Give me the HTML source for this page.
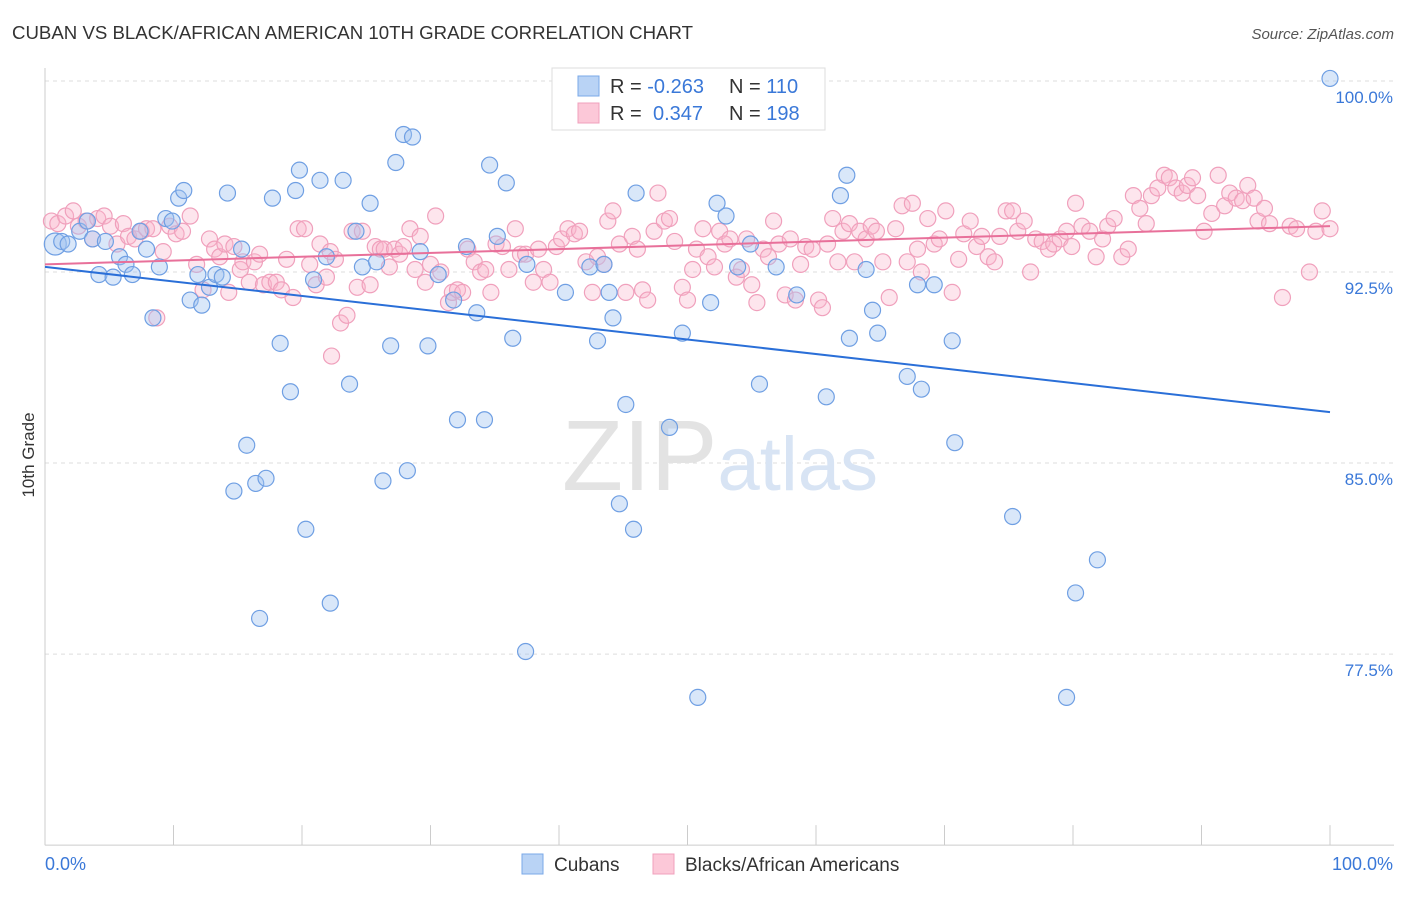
<!DOCTYPE html>
<html><head><meta charset="utf-8"><style>
body{margin:0;background:#fff;font-family:"Liberation Sans",sans-serif;}
svg text{font-family:"Liberation Sans",sans-serif;}
</style></head><body>
<svg id="chart" width="1406" height="892" viewBox="0 0 1406 892" xmlns="http://www.w3.org/2000/svg">
<text x="12" y="39" font-size="18.5" fill="#333" textLength="681" lengthAdjust="spacingAndGlyphs">CUBAN VS BLACK/AFRICAN AMERICAN 10TH GRADE CORRELATION CHART</text>
<text x="1394" y="39" font-size="15" fill="#555" font-style="italic" text-anchor="end">Source: ZipAtlas.com</text>
<g id="grid"></g>
<text x="720" y="490" text-anchor="middle" font-size="100" fill="#e3e3e3" font-family="Liberation Serif">ZIP<tspan fill="#d8e4f4" font-family="Liberation Sans" font-size="76">atlas</tspan></text>
<g id="axes"></g>
<g id="pink"></g>
<g id="blue"></g>
<g id="trends"></g>
<text transform="translate(34,455) rotate(-90)" text-anchor="middle" font-size="17" fill="#333">10th Grade</text>
<g>
<rect x="552" y="68" width="273" height="62" fill="#fff" stroke="#ddd"/>
<rect x="578" y="76" width="21" height="20" fill="#b9d3f5" stroke="#7aa8e8"/>
<rect x="578" y="103" width="21" height="20" fill="#fcc8d8" stroke="#f0a0bc"/>
<text x="610" y="93" font-size="20" fill="#333">R = <tspan fill="#3a78d8">-0.263</tspan><tspan x="729">N = </tspan><tspan fill="#3a78d8">110</tspan></text>
<text x="610" y="120" font-size="20" fill="#333">R = <tspan x="653" fill="#3a78d8">0.347</tspan><tspan x="729">N = </tspan><tspan fill="#3a78d8">198</tspan></text>
</g>
<g>
<rect x="522" y="854" width="21" height="20" fill="#b9d3f5" stroke="#7aa8e8"/>
<text x="554" y="871" font-size="19" fill="#333">Cubans</text>
<rect x="653" y="854" width="21" height="20" fill="#fcc8d8" stroke="#f0a0bc"/>
<text x="685" y="871" font-size="19" fill="#333">Blacks/African Americans</text>
</g>
</svg>
<script>
const yTicks=[100,92.5,85,77.5];
const yTickLabels=["100.0%","92.5%","85.0%","77.5%"];
const xTickVals=[0,10,20,30,40,50,60,70,80,90,100];
const xEndLabels=["0.0%","100.0%"];
const blueX=[0.8,1.3,1.8,2.7,3.3,3.7,4.2,4.7,5.3,5.8,6.3,6.8,7.4,7.9,8.4,8.9,9.4,9.9,10.4,10.8,11.3,11.9,12.2,12.8,13.3,13.8,14.2,14.7,15.3,15.7,16.4,16.7,17.2,17.7,18.3,19.1,19.5,19.8,20.3,20.9,21.4,21.9,22.2,23.2,23.7,24.2,24.7,25.3,25.8,26.3,26.9,27.3,27.9,28.2,28.6,29.2,29.8,30.6,31.8,32.1,32.8,33.6,34.2,34.6,35.2,35.9,36.4,37.5,37.4,40.5,42.4,43.0,43.5,43.9,44.2,44.7,45.2,45.8,46.0,48.6,49.6,50.8,51.8,52.3,53.0,53.9,54.9,55.6,56.9,58.5,60.8,61.9,62.4,62.6,63.9,64.4,64.8,67.1,67.9,68.2,69.2,70.6,70.8,75.3,79.5,80.2,81.9,100];
const blueY=[93.6,93.7,93.6,94.1,94.5,93.8,92.4,93.7,92.3,93.1,92.8,92.4,94.1,93.4,90.7,92.7,94.6,94.5,95.4,95.7,91.4,92.4,91.2,91.9,92.4,92.3,95.6,83.9,93.4,85.7,84.2,78.9,84.4,95.4,89.7,87.8,95.7,96.5,82.4,92.2,96.1,93.1,79.5,96.1,88.1,94.1,92.7,95.2,92.9,84.3,89.6,96.8,97.9,84.7,97.8,93.3,89.6,92.4,91.4,86.7,93.5,90.9,86.7,96.7,93.9,96.0,89.9,92.8,77.6,91.7,92.7,89.8,92.8,91.7,90.7,83.4,87.3,82.4,95.6,86.4,90.1,75.8,91.3,95.2,94.7,92.7,93.6,88.1,92.7,91.6,87.6,95.5,96.3,89.9,92.6,91.0,90.1,88.4,92.0,87.9,92.0,89.8,85.8,82.9,75.8,79.9,81.2,100.1];
const pinkX=[0.5,1.0,1.6,2.2,2.6,3.2,3.7,4.1,4.6,5.1,5.6,6.1,6.5,7.0,7.5,7.9,8.4,8.7,9.2,9.7,10.2,10.7,11.3,11.8,12.3,12.8,13.2,13.6,14.0,14.3,14.7,15.2,15.4,15.9,16.3,16.7,17.0,17.5,18.0,18.4,18.8,19.3,19.7,20.2,20.6,21.1,21.4,21.9,22.2,22.6,23.0,23.5,22.3,23.9,24.3,24.7,25.3,25.7,26.1,26.4,26.8,27.2,27.6,27.9,28.4,28.8,29.2,29.6,30.0,30.4,30.8,31.4,31.7,32.1,32.5,32.9,33.4,33.9,34.3,34.7,35.1,35.6,36.1,36.6,37.0,37.4,38.0,38.4,38.8,39.3,39.8,40.2,40.7,41.2,41.6,42.1,42.6,43.0,43.5,43.8,44.2,44.7,45.2,45.7,46.1,46.5,46.9,47.4,47.7,48.2,48.6,49.0,49.6,50.0,50.4,50.7,51.2,51.6,52.1,52.5,52.9,53.3,53.8,54.2,54.6,55.0,55.4,55.9,56.3,56.7,57.1,57.6,58.0,58.4,58.8,59.2,59.7,60.2,60.5,60.9,61.3,61.7,62.1,62.6,63.0,63.4,63.9,64.3,64.7,65.2,65.7,66.2,66.7,67.1,67.5,67.9,68.2,68.7,69.2,69.6,70.1,70.6,71.1,71.5,72.0,72.5,72.9,73.4,73.9,74.3,74.8,75.3,75.7,76.2,76.7,77.1,77.6,78.1,78.5,79.0,79.5,79.9,80.2,80.7,81.3,81.8,82.3,82.7,83.2,83.8,84.3,84.7,85.2,85.7,86.1,86.6,87.1,87.5,88.0,88.5,88.9,89.3,89.7,90.2,90.8,91.3,91.8,92.2,92.7,93.2,93.6,94.1,94.4,94.9,95.3,96.3,96.9,97.4,98.4,98.9,99.4,100];
const pinkY=[94.5,94.4,94.7,94.9,94.3,94.5,93.8,94.6,94.7,94.3,93.6,94.4,93.9,93.8,94.1,94.2,94.2,90.7,93.3,94.3,94.0,94.1,94.7,92.8,91.8,93.8,93.4,93.1,93.6,91.7,93.5,92.6,92.9,92.1,92.9,93.2,92.0,92.1,92.1,91.8,93.0,91.5,94.2,94.2,92.8,92.0,93.6,92.3,93.3,93.0,90.5,90.8,89.2,94.1,91.9,94.1,92.0,93.5,93.4,93.4,92.7,93.4,93.2,93.5,94.2,92.6,93.9,92.1,92.8,94.7,92.5,91.3,91.7,91.8,91.7,93.4,92.9,92.5,92.6,91.7,93.6,93.5,92.6,94.2,93.2,93.2,92.1,93.4,92.6,92.1,93.5,93.8,94.2,94.0,94.1,92.9,91.7,93.1,92.8,94.5,94.9,93.6,91.7,93.9,93.4,91.8,91.4,94.1,95.6,94.5,94.6,93.7,91.9,91.4,92.6,93.4,94.2,93.1,92.7,94.1,93.6,93.8,92.3,92.6,93.8,92.0,91.3,93.4,93.1,94.5,93.6,91.6,93.8,91.4,92.8,93.5,93.4,91.4,91.1,93.6,94.6,92.9,94.1,94.4,92.9,94.1,93.8,94.3,94.1,92.9,91.5,94.2,95.1,92.9,95.2,93.4,92.5,94.6,93.6,93.8,94.9,91.7,93.0,94.0,94.5,93.5,93.9,93.1,92.9,93.9,94.9,94.9,94.1,94.5,92.5,93.8,93.7,93.4,93.6,93.8,94.1,93.5,95.2,94.3,94.1,93.1,93.8,94.3,94.6,93.1,93.4,95.5,95.0,94.4,95.5,95.8,96.3,96.2,95.8,95.6,95.9,96.2,95.5,94.1,94.8,96.3,95.1,95.6,95.4,95.3,95.9,95.4,94.5,95.0,94.4,91.5,94.3,94.2,92.5,94.1,94.9,94.2];
const blueTrend=[92.7,87.0];
const pinkTrend=[92.8,94.3];

const NS="http://www.w3.org/2000/svg";
const X0=45,X1=1330,YTOP=81,PXPER=25.47;
function sx(v){return X0+(X1-X0)*v/100;}
function sy(v){return YTOP+(100-v)*PXPER;}
function mk(tag,attrs,parent){const e=document.createElementNS(NS,tag);for(const k in attrs)e.setAttribute(k,attrs[k]);parent.appendChild(e);return e;}
const grid=document.getElementById('grid'),axes=document.getElementById('axes');
yTicks.forEach((t,i)=>{
  const l=mk('line',{x1:X0,x2:1394,y1:sy(t),y2:sy(t),stroke:'#ddd','stroke-dasharray':'4,4'},grid);
  
  
  const tx=mk('text',{x:1393,y:sy(t)+22,'text-anchor':'end','font-size':'17',fill:'#3a78d8'},axes);
  tx.textContent=yTickLabels[i];
  
  
});
const yl=mk('line',{x1:X0,x2:X0,y1:68,y2:sy(70),stroke:'#ccc'},axes);


const xl=mk('line',{x1:X0,x2:1394,y1:sy(70),y2:sy(70),stroke:'#ccc'},axes);


xTickVals.forEach(t=>{
  const l=mk('line',{x1:sx(t),x2:sx(t),y1:sy(70)-20,y2:sy(70),stroke:'#ccc'},axes);
  
  
});
const xa=mk('text',{x:45,y:870,'font-size':'18',fill:'#3a78d8'},axes);xa.textContent=xEndLabels[0];


const xb=mk('text',{x:1393,y:870,'font-size':'18',fill:'#3a78d8','text-anchor':'end'},axes);xb.textContent=xEndLabels[1];


const pg=document.getElementById('pink');
pinkX.forEach((x,i)=>{
  const c=mk('circle',{cx:sx(x),cy:sy(pinkY[i]),r:8,fill:'rgba(248,180,202,0.35)',stroke:'#f0a0bc','stroke-width':1.2},pg);
  
  
});
const bg=document.getElementById('blue');
blueX.forEach((x,i)=>{
  const c=mk('circle',{cx:sx(x),cy:sy(blueY[i]),r:i===0?11:8,fill:'rgba(160,195,240,0.4)',stroke:'#6f9fe3','stroke-width':1.2},bg);
  
  
});
const tg=document.getElementById('trends');
const bt=mk('line',{x1:sx(0),y1:sy(blueTrend[0]),x2:sx(100),y2:sy(blueTrend[1]),stroke:'#2a6fd8','stroke-width':2},tg);


const pt=mk('line',{x1:sx(0),y1:sy(pinkTrend[0]),x2:sx(100),y2:sy(pinkTrend[1]),stroke:'#e8709a','stroke-width':2},tg);


</script>
</body></html>
